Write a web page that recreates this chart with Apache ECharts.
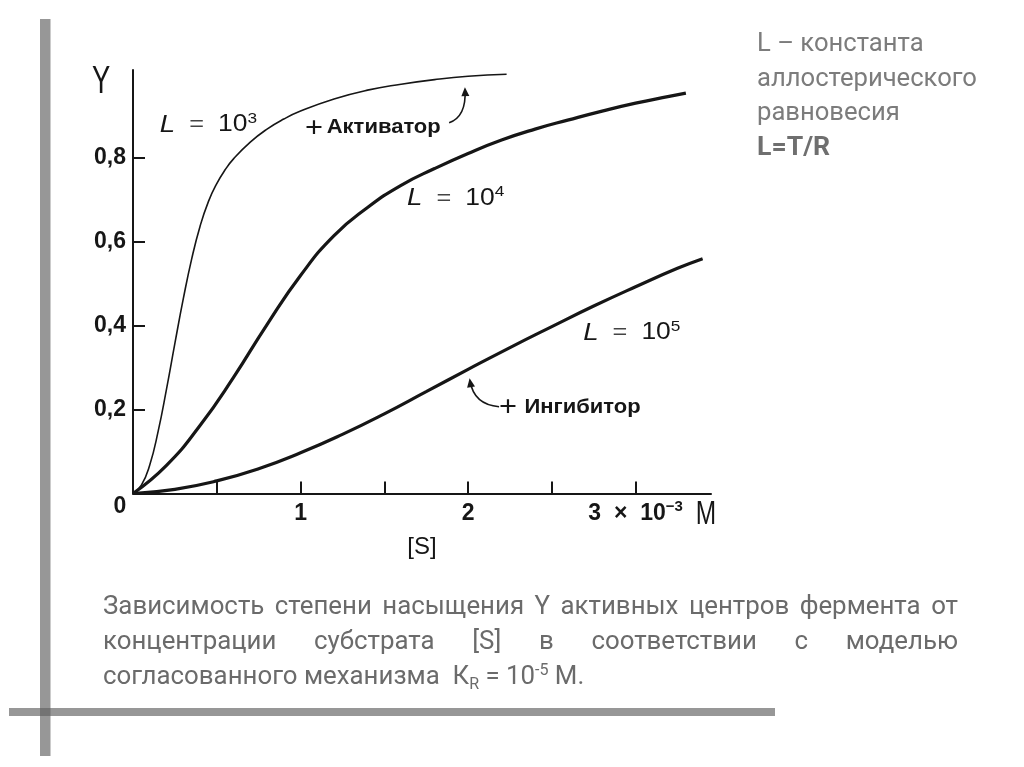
<!DOCTYPE html>
<html><head><meta charset="utf-8">
<script src="https://cdn.jsdelivr.net/npm/echarts@6/dist/echarts.min.js"></script>
<style>html,body{margin:0;padding:0;background:#fff}#c{width:1024px;height:767px}</style>
</head><body><div id="c"></div>
<script>
// ---- data ----
const sL3 = [0, 0.05, 0.1, 0.15, 0.2, 0.25, 0.3, 0.35, 0.4, 0.45, 0.5, 0.55, 0.6, 0.7, 0.8, 0.9, 1.0, 1.2, 1.4, 1.6, 1.8, 2.0, 2.23];
const yL3 = [0, 0.02, 0.068, 0.148, 0.249, 0.358, 0.464, 0.559, 0.637, 0.696, 0.739, 0.772, 0.798, 0.838, 0.869, 0.893, 0.912, 0.941, 0.962, 0.976, 0.987, 0.995, 1.0];
const sL4 = [0, 0.2, 0.4, 0.6, 0.8, 1.0, 1.2, 1.4, 1.6, 1.8, 2.0, 2.2, 2.4, 2.6, 2.8, 3.0, 3.2, 3.3];
const yL4 = [0, 0.067, 0.162, 0.277, 0.403, 0.52, 0.615, 0.682, 0.735, 0.775, 0.811, 0.843, 0.869, 0.891, 0.912, 0.931, 0.947, 0.955];
const sL5 = [0, 0.25, 0.5, 0.75, 1.0, 1.25, 1.5, 1.75, 2.0, 2.25, 2.5, 2.75, 3.0, 3.25, 3.4];
const yL5 = [0, 0.01, 0.03, 0.059, 0.097, 0.141, 0.19, 0.243, 0.296, 0.348, 0.398, 0.447, 0.493, 0.537, 0.56];
const xTickValues = [0.5, 1, 1.5, 2, 2.5, 3];
const xLabelValues = [1, 2, 3];
const yTickValues = [0.2, 0.4, 0.6, 0.8];
const seriesNames = ['L = 10³', 'L = 10⁴', 'L = 10⁵'];
const rightText = ['L – константа', 'аллостерического', 'равновесия', 'L=T/R'];
const captionLine1 = 'Зависимость степени насыщения Y активных центров фермента от';
const captionLine2 = 'концентрации субстрата [S] в соответствии с моделью';
const captionLine3a = 'согласованного механизма  К';
// annotation anchors in data units [s, Y]
const noteL3 = [0.16, 0.879];
const noteAct = [1.027, 0.872];
const noteL4 = [1.636, 0.703];
const noteL5 = [2.687, 0.383];
const noteInh = [2.185, 0.206];
const arrowAct = [[1.887, 0.884], [1.99, 0.899], [1.982, 0.962]];
const arrowInh = [[2.185, 0.207], [2.035, 0.212], [2.012, 0.268]];

const INK = '#161616';
const FF = "'Liberation Sans', Arial, sans-serif";
const pairs = (xs, ys) => xs.map((x, i) => [x, ys[i]]);

const chart = echarts.init(document.getElementById('c'), null, {renderer: 'canvas'});
const labelRich = {
  n: {fontSize: 23, fontWeight: 'bold', color: INK, fontFamily: FF, lineHeight: 28},
  s: {fontSize: 15, fontWeight: 'bold', color: INK, fontFamily: FF, lineHeight: 15, verticalAlign: 'top'}
};
chart.setOption({
  animation: false,
  backgroundColor: '#ffffff',
  grid: {left: 133, top: 70, width: 578, height: 423.5},
  xAxis: {
    type: 'value', min: 0, max: 3.45,
    axisLine: {lineStyle: {color: INK, width: 2}},
    axisTick: {inside: true, length: 12, customValues: xTickValues, lineStyle: {color: INK, width: 2}},
    axisLabel: {
      customValues: xLabelValues, margin: 6,
      formatter: v => v === 3 ? '{n|3  ×  10}{s|−3}' : '{n|' + v + '}',
      rich: labelRich
    },
    splitLine: {show: false},
    name: '[S]', nameLocation: 'middle', nameGap: 42,
    nameTextStyle: {fontSize: 24, color: INK, fontFamily: FF}
  },
  yAxis: {
    type: 'value', min: 0, max: 1.01,
    axisLine: {lineStyle: {color: INK, width: 2}},
    axisTick: {inside: true, length: 12, customValues: yTickValues, lineStyle: {color: INK, width: 2}},
    axisLabel: {
      customValues: yTickValues, margin: 7,
      formatter: v => String(v).replace('.', ','),
      fontSize: 23, fontWeight: 'bold', color: INK, fontFamily: FF
    },
    splitLine: {show: false}
  },
  series: [
    {name: seriesNames[0], type: 'line', data: pairs(sL3, yL3), smooth: 0.5, showSymbol: false, symbol: 'none',
     lineStyle: {color: INK, width: 1.6}},
    {name: seriesNames[1], type: 'line', data: pairs(sL4, yL4), smooth: 0.5, showSymbol: false, symbol: 'none',
     lineStyle: {color: INK, width: 3.2}},
    {name: seriesNames[2], type: 'line', data: pairs(sL5, yL5), smooth: 0.5, showSymbol: false, symbol: 'none',
     lineStyle: {color: INK, width: 3.2}}
  ]
});

const px = p => chart.convertToPixel({gridIndex: 0}, p);
const ctx = document.createElement('canvas').getContext('2d');
const measure = (t, size, weight, fam) => { ctx.font = (weight || 'normal') + ' ' + size + 'px ' + fam; return ctx.measureText(t).width; };

const g = [];
// decorative slide bars
g.push({type: 'rect', shape: {x: 40, y: 19, width: 10.5, height: 737}, style: {fill: 'rgba(95,95,95,0.65)'}, z: 1});
g.push({type: 'rect', shape: {x: 9, y: 708, width: 766, height: 8}, style: {fill: 'rgba(95,95,95,0.65)'}, z: 1});

// axis extras
g.push({type: 'text', x: 101, y: 83, scaleX: 0.72, style: {text: 'Y', fontSize: 38, fontFamily: FF, fill: INK, align: 'center', verticalAlign: 'middle'}});
const o = px([0, 0]);
g.push({type: 'text', x: o[0] - 13, y: o[1] + 13, style: {text: '0', fontSize: 23, fontWeight: 'bold', fontFamily: FF, fill: INK, align: 'center', verticalAlign: 'middle'}});
const endX = px([3.45, 0]);
g.push({type: 'text', x: endX[0] - 5, y: o[1] + 21, scaleX: 0.72, style: {text: 'M', fontSize: 34, fontFamily: FF, fill: INK, align: 'center', verticalAlign: 'middle'}});

// curve annotations
const noteRich = {
  i: {fontSize: 24, fontStyle: 'italic', fontFamily: FF, fill: INK, lineHeight: 28},
  n: {fontSize: 23, fontFamily: FF, fill: INK, lineHeight: 28},
  e: {fontSize: 22, fontFamily: FF, fill: '#444', lineHeight: 28},
  s: {fontSize: 15, fontFamily: FF, fill: INK, lineHeight: 15, verticalAlign: 'top'},
  p: {fontSize: 28, fontFamily: FF, fill: INK, lineHeight: 28},
  b: {fontSize: 20, fontWeight: 'bold', fontFamily: FF, fill: INK, lineHeight: 28}
};
function note(anchor, text, sx) {
  const p = px(anchor);
  g.push({type: 'text', x: p[0], y: p[1], scaleX: sx, style: {text: text, rich: noteRich, align: 'left', verticalAlign: 'middle'}});
}
note(noteL3, '{i|L}{e|  =  }{n|10}{s|3}', 1.15);
note(noteL4, '{i|L}{e|  =  }{n|10}{s|4}', 1.15);
note(noteL5, '{i|L}{e|  =  }{n|10}{s|5}', 1.15);
note(noteAct, '{p|+} {b|Активатор}', 1.1);
note(noteInh, '{p|+}  {b|Ингибитор}', 1.1);

function arrow(pts) {
  const a = px(pts[0]), c = px(pts[1]), b = px(pts[2]);
  g.push({type: 'bezierCurve', shape: {x1: a[0], y1: a[1], cpx1: c[0], cpy1: c[1], x2: b[0], y2: b[1]},
          style: {stroke: INK, lineWidth: 1.6, fill: null}});
  const dx = b[0] - c[0], dy = b[1] - c[1], L = Math.hypot(dx, dy) || 1;
  const ux = dx / L, uy = dy / L, nx = -uy, ny = ux;
  const tip = [b[0] + ux * 3, b[1] + uy * 3];
  const base = [tip[0] - ux * 9, tip[1] - uy * 9];
  g.push({type: 'polygon', shape: {points: [tip, [base[0] + nx * 4, base[1] + ny * 4], [base[0] - nx * 4, base[1] - ny * 4]]},
          style: {fill: INK}});
}
arrow(arrowAct);
arrow(arrowInh);

// right text block
const RT = "Roboto, 'Noto Sans', sans-serif";
const rtSize = Math.max(18, Math.min(27, 24 * 220 / measure(rightText[1], 24, 'normal', RT)));
rightText.forEach((t, i) => {
  g.push({type: 'text', x: 757, y: 45 + i * 34.3, style: {text: t, fontSize: i === 3 ? rtSize + 1 : rtSize, fontWeight: i === 3 ? 'bold' : 'normal',
          fontFamily: RT, fill: i === 3 ? '#6f6f6f' : '#7c7c7c', align: 'left', verticalAlign: 'middle'}});
});

// caption
const CF = "Roboto, 'Noto Sans', sans-serif";
const capSize = Math.max(20, Math.min(28, 24 * 337 / measure('согласованного механизма', 24, 'normal', CF)));
const capColor = '#6b6b6b';
const capLeft = 103, capRight = 958;
function justified(line, y) {
  const words = line.split(' ');
  const widths = words.map(w => measure(w, capSize, 'normal', CF));
  const total = widths.reduce((a, b) => a + b, 0);
  const gap = (capRight - capLeft - total) / (words.length - 1);
  let x = capLeft;
  words.forEach((w, i) => {
    g.push({type: 'text', x: x, y: y, style: {text: w, fontSize: capSize, fontFamily: CF, fill: capColor, align: 'left', verticalAlign: 'middle'}});
    x += widths[i] + gap;
  });
}
justified(captionLine1, 608);
justified(captionLine2, 643);
g.push({type: 'text', x: capLeft, y: 678, style: {
  text: '{a|' + captionLine3a + '}{d|R}{a| = 10}{u|-5}{a| М.}',
  rich: {
    a: {fontSize: capSize, fontFamily: CF, fill: capColor, lineHeight: 30},
    d: {fontSize: capSize * 0.62, fontFamily: CF, fill: capColor, lineHeight: 14, verticalAlign: 'bottom'},
    u: {fontSize: capSize * 0.62, fontFamily: CF, fill: capColor, lineHeight: 14, verticalAlign: 'top'}
  },
  align: 'left', verticalAlign: 'middle'}});

chart.setOption({graphic: g});
</script></body></html>
